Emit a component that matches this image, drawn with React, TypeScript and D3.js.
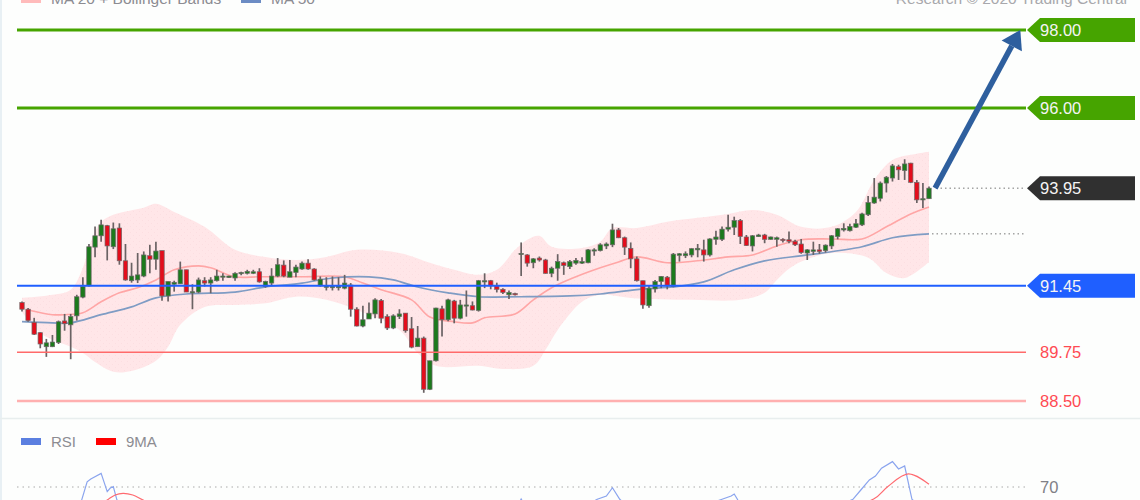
import * as d3 from 'd3';
import * as React from 'react';

const opens = [
  91.02, 90.85, 90.51, 90.25, 89.89, 89.89, 90.0, 90.55, 90.45, 90.68,
  91.16, 91.45, 92.44, 92.73, 92.99, 92.45, 92.93, 92.09, 91.58, 91.6,
  91.7, 92.22, 92.13, 92.35, 91.19, 91.49, 91.5, 91.86, 91.27, 91.29,
  91.58, 91.52, 91.58, 91.67, 91.66, 91.65, 91.76, 91.77, 91.77, 91.81,
  91.43, 91.52, 91.7, 91.98, 91.67, 91.79, 91.88, 92.03, 91.88, 91.45,
  91.41, 91.4, 91.4, 91.39, 91.47, 90.85, 90.42, 90.6, 90.73, 91.07,
  90.66, 90.37, 90.66, 90.75, 90.35, 89.89, 90.11, 88.8, 89.53, 90.86,
  90.58, 91.06, 90.62, 90.94, 90.94, 90.82, 91.56, 91.58, 91.46, 91.36,
  91.22, 91.25, 92.25, 92.24, 92.04, 92.16, 92.11, 91.77, 91.9, 92.04,
  91.94, 92.03, 92.03, 92.04, 92.34, 92.35, 92.47, 92.5, 92.88, 92.68,
  92.41, 92.14, 91.58, 90.94, 91.37, 91.56, 91.67, 91.43, 92.23, 92.22,
  92.24, 92.37, 92.37, 92.24, 92.64, 92.64, 92.9, 92.95, 93.12, 92.7,
  92.47, 92.71, 92.75, 92.64, 92.64, 92.64, 92.63, 92.59, 92.52, 92.29,
  92.33, 92.37, 92.35, 92.47, 92.71, 92.88, 92.86, 92.95, 93.01, 93.27,
  93.57, 93.69, 94.08, 94.21, 94.5, 94.4, 94.59, 94.1, 93.65, 93.68,
];
const highs = [
  91.05, 90.88, 90.63, 90.26, 90.09, 90.19, 90.56, 90.73, 90.73, 91.22,
  91.67, 92.52, 92.97, 93.14, 93.01, 93.07, 93.05, 92.52, 92.04, 92.29,
  92.33, 92.5, 92.58, 92.35, 91.56, 91.58, 92.07, 91.86, 91.49, 91.66,
  91.67, 91.67, 91.86, 91.77, 91.71, 91.8, 91.81, 91.86, 91.86, 91.9,
  91.58, 91.9, 92.16, 92.1, 92.11, 91.99, 92.07, 92.13, 91.9, 91.69,
  91.67, 91.69, 91.67, 91.73, 91.52, 90.9, 90.94, 91.02, 91.13, 91.11,
  90.72, 90.72, 90.85, 90.75, 90.65, 90.42, 90.15, 89.53, 90.89, 90.94,
  91.12, 91.09, 91.09, 91.33, 91.05, 91.6, 91.77, 91.6, 91.53, 91.39,
  91.33, 91.27, 92.56, 92.26, 92.16, 92.2, 92.14, 91.94, 92.26, 92.07,
  92.11, 92.16, 92.18, 92.39, 92.41, 92.54, 92.56, 93.04, 92.93, 92.71,
  92.56, 92.2, 91.58, 91.47, 91.6, 91.7, 91.7, 92.29, 92.29, 92.33,
  92.41, 92.52, 92.63, 92.67, 92.86, 92.97, 93.27, 93.22, 93.16, 92.75,
  92.75, 92.78, 92.78, 92.71, 92.71, 92.67, 92.84, 92.63, 92.65, 92.39,
  92.58, 92.52, 92.51, 92.75, 92.93, 93.05, 93.04, 93.16, 93.32, 93.75,
  94.21, 94.12, 94.26, 94.57, 94.55, 94.69, 94.6, 94.16, 94.08, 93.99,
];
const lows = [
  90.79, 90.53, 90.19, 89.85, 89.63, 89.88, 89.96, 90.3, 89.57, 90.56,
  91.13, 91.43, 92.18, 92.58, 92.1, 92.39, 91.99, 91.58, 91.53, 91.52,
  91.67, 91.77, 91.86, 91.07, 91.05, 91.3, 91.5, 91.29, 90.85, 91.26,
  91.43, 91.26, 91.56, 91.58, 91.65, 91.58, 91.72, 91.74, 91.75, 91.53,
  91.4, 91.47, 91.67, 91.67, 91.67, 91.67, 91.86, 91.86, 91.58, 91.43,
  91.33, 91.33, 91.33, 91.36, 90.66, 90.41, 90.39, 90.6, 90.62, 90.49,
  90.32, 90.34, 90.6, 90.25, 89.85, 89.89, 88.71, 88.78, 89.51, 90.15,
  90.54, 90.49, 90.59, 90.66, 90.82, 90.79, 91.39, 91.36, 91.28, 91.24,
  91.11, 91.2, 91.7, 91.94, 91.9, 92.07, 91.76, 91.67, 91.58, 91.73,
  91.88, 91.99, 92.01, 92.03, 92.22, 92.33, 92.39, 92.44, 92.67, 92.24,
  91.9, 91.56, 90.86, 90.89, 91.28, 91.39, 91.36, 91.41, 92.07, 92.16,
  92.18, 92.18, 92.07, 92.2, 92.5, 92.6, 92.84, 92.75, 92.52, 92.47,
  92.33, 92.7, 92.54, 92.63, 92.45, 92.56, 92.54, 92.47, 92.27, 92.11,
  92.24, 92.27, 92.3, 92.39, 92.64, 92.84, 92.84, 92.93, 92.98, 93.24,
  93.55, 93.61, 93.84, 94.12, 94.16, 94.16, 94.08, 93.57, 93.44, 93.67,
];
const closes = [
  90.85, 90.56, 90.21, 89.96, 89.99, 90.01, 90.53, 90.48, 90.66, 91.17,
  91.43, 92.45, 92.73, 93.01, 92.47, 92.91, 92.09, 91.6, 91.7, 91.73,
  92.24, 92.13, 92.34, 91.19, 91.56, 91.54, 91.86, 91.29, 91.3, 91.6,
  91.52, 91.6, 91.7, 91.7, 91.7, 91.77, 91.79, 91.82, 91.81, 91.55,
  91.56, 91.7, 91.99, 91.7, 91.81, 91.93, 92.03, 91.88, 91.6, 91.62,
  91.45, 91.45, 91.45, 91.52, 90.85, 90.42, 90.58, 90.75, 91.09, 90.62,
  90.37, 90.68, 90.73, 90.3, 89.88, 90.11, 88.8, 89.53, 90.88, 90.58,
  91.09, 90.62, 90.96, 90.96, 90.83, 91.58, 91.58, 91.46, 91.36, 91.28,
  91.28, 91.22, 92.28, 92.03, 92.14, 92.11, 91.77, 91.9, 92.07, 91.97,
  92.07, 92.1, 92.07, 92.37, 92.37, 92.5, 92.52, 92.88, 92.68, 92.44,
  92.14, 91.58, 90.96, 91.39, 91.56, 91.69, 91.46, 92.26, 92.27, 92.27,
  92.4, 92.41, 92.24, 92.65, 92.7, 92.9, 92.95, 93.12, 92.71, 92.48,
  92.73, 92.75, 92.64, 92.7, 92.68, 92.61, 92.59, 92.5, 92.3, 92.37,
  92.37, 92.33, 92.49, 92.73, 92.91, 92.92, 92.97, 93.04, 93.29, 93.58,
  93.72, 94.08, 94.23, 94.52, 94.42, 94.57, 94.1, 93.65, 93.68, 93.95,
];

// bands and averages are read at these candle numbers
const upperIdx = [0, 5, 8, 10, 11, 12, 13, 15, 20, 22, 25, 30, 35, 40, 45, 50, 55, 62, 67, 71, 75, 78, 81, 83, 85, 87, 92, 95, 97, 101, 106, 111, 116, 120, 124, 128, 133, 137, 140, 143, 147, 149];
const upperBand = [91.14, 91.22, 91.35, 91.91, 92.45, 92.83, 93.09, 93.27, 93.45, 93.55, 93.34, 92.96, 92.37, 92.19, 92.11, 92.19, 92.37, 92.29, 92.04, 91.86, 91.73, 91.86, 92.37, 92.63, 92.73, 92.45, 92.42, 92.58, 92.93, 92.93, 93.09, 93.19, 93.29, 93.39, 93.27, 92.96, 92.96, 93.34, 94.16, 94.67, 94.83, 94.88];
const lowerIdx = [0, 3, 5, 8, 10, 12, 15, 18, 22, 24, 26, 30, 35, 40, 45, 50, 55, 62, 65, 68, 75, 79, 84, 86, 88, 92, 95, 100, 110, 118, 122, 124, 127, 133, 139, 142, 145, 149];
const lowerBand = [90.78, 90.24, 90.07, 89.89, 89.73, 89.5, 89.25, 89.27, 89.53, 89.89, 90.45, 90.91, 90.96, 91.0, 91.17, 91.09, 90.83, 90.32, 89.73, 89.4, 89.4, 89.32, 89.4, 89.81, 90.32, 91.04, 91.22, 91.14, 91.09, 91.09, 91.27, 91.6, 91.99, 92.29, 92.17, 91.78, 91.65, 92.06];
const ma20Idx = [1, 5, 7, 10, 13, 16, 19, 22, 25, 29, 31, 35, 39, 46, 53, 56, 59, 64, 67, 71, 74, 76, 81, 84, 87, 91, 95, 98, 101, 106, 111, 116, 120, 124, 128, 133, 138, 142, 146, 149];
const ma20 = [90.83, 90.71, 90.71, 90.76, 91.04, 91.27, 91.4, 91.6, 91.86, 91.96, 91.91, 91.68, 91.68, 91.68, 91.68, 91.52, 91.35, 91.09, 90.65, 90.53, 90.5, 90.63, 90.73, 91.09, 91.4, 91.68, 91.91, 92.06, 92.19, 92.04, 92.09, 92.19, 92.24, 92.47, 92.63, 92.65, 92.65, 92.96, 93.29, 93.47];
const ma50Idx = [0, 5, 8, 13, 18, 22, 27, 35, 40, 46, 51, 57, 61, 65, 70, 75, 82, 90, 95, 102, 107, 112, 117, 122, 129, 138, 143, 149];
const ma50 = [90.53, 90.5, 90.5, 90.71, 90.91, 91.14, 91.24, 91.29, 91.42, 91.52, 91.65, 91.68, 91.6, 91.42, 91.27, 91.17, 91.17, 91.19, 91.24, 91.37, 91.42, 91.55, 91.86, 92.09, 92.24, 92.45, 92.68, 92.78];

const rsiIdx = [0, 8, 9.8, 10.7, 11.3, 13, 14, 14.5, 15, 15.6, 20, 40, 60, 81, 82, 83, 90, 94.5, 96, 97, 98.2, 103, 115, 116.5, 117, 117.5, 119, 130, 136.5, 137.8, 139.2, 140.2, 141.2, 143, 144, 145, 146.2, 149];
const rsiValues = [48, 50, 61.3, 73.5, 75.3, 79.1, 66.9, 69.3, 70.2, 61.3, 52, 50, 42, 54, 62, 55, 52, 61.8, 64, 69.5, 61.8, 45, 61.8, 64, 65.3, 62, 50, 50, 61.8, 68, 74.7, 77.3, 82.5, 86.9, 82, 84, 61.8, 52];
const rsiMaIdx = [8, 12, 14, 15.3, 16.6, 18.2, 19.9, 24, 60, 100, 130, 139.9, 142.2, 145.6, 149];
const rsiMaValues = [50, 56, 61.3, 64.7, 65.8, 64.7, 61.3, 54, 46, 50, 52, 62, 70.2, 78.7, 71.8];

const levels = [
  { value: 98, label: '98.00', color: '#46a400', width: 3 },
  { value: 96, label: '96.00', color: '#46a400', width: 3 },
  { value: 91.45, label: '91.45', color: '#1f5fff', width: 2 },
  { value: 89.75, label: '89.75', color: '#ff6a6a', width: 1.5 },
  { value: 88.5, label: '88.50', color: '#ffb0b0', width: 2.5 },
];
const lastClose = 93.95;
const lastMa50 = 92.78;
const rsiLevel = 70;

const UP = '#1a7a1e';
const DOWN = '#e3101c';
const GREY = '#8c8c92';
const FONT = '"Liberation Sans", Arial, sans-serif';

const App = () => {
  const ref = React.useRef<SVGSVGElement | null>(null);

  React.useEffect(() => {
    const svg = d3.select(ref.current);
    svg.selectAll('*').remove();

    const x = d3.scaleLinear().domain([0, 149]).range([22, 929]);
    const y = d3.scaleLinear().domain([88.5, 98]).range([401, 30]);
    const yRsi = d3.scaleLinear().domain([70, 90]).range([487, 457]);
    const left = 17;
    const right = 1026;

    const defs = svg.append('defs');
    defs.append('filter').attr('id', 'soft').append('feGaussianBlur').attr('stdDeviation', 0.45);
    const dots = defs.append('pattern').attr('id', 'dots').attr('width', 6).attr('height', 6).attr('patternUnits', 'userSpaceOnUse');
    dots.append('circle').attr('cx', 1.5).attr('cy', 1.5).attr('r', 0.6).attr('fill', '#fcdde0');
    dots.append('circle').attr('cx', 4.5).attr('cy', 4.5).attr('r', 0.6).attr('fill', '#fcdde0');

    svg.append('rect').attr('width', 1140).attr('height', 500).attr('fill', '#fdfefd');
    svg.append('rect').attr('x', 0).attr('width', 2).attr('height', 500).attr('fill', '#e8f0f4');
    svg.append('line').attr('x1', 0).attr('x2', 1140).attr('y1', 418.5).attr('y2', 418.5).attr('stroke', '#e8eeee').attr('stroke-width', 1.5);

    // top legend, cut by the page edge
    svg.append('rect').attr('x', 21).attr('y', -4).attr('width', 20).attr('height', 7).attr('fill', '#fbb');
    svg.append('rect').attr('x', 241).attr('y', -4).attr('width', 20).attr('height', 7).attr('fill', '#6c8cc4');
    const legend = svg.append('g').attr('font-family', FONT).attr('font-size', 15.5).attr('fill', GREY);
    legend.append('text').attr('x', 51).attr('y', 4).text('MA 20 + Bollinger Bands');
    legend.append('text').attr('x', 271).attr('y', 4).text('MA 50');
    legend.append('text').attr('x', 1127).attr('y', 4).attr('text-anchor', 'end').attr('fill', '#a8a8ac').text('Research © 2020 Trading Central');

    // bollinger bands
    const bandLine = d3.line<[number, number]>().x((d) => x(d[0])).y((d) => y(d[1])).curve(d3.curveCatmullRom.alpha(0.5));
    const upperPath = bandLine(upperIdx.map((d, i) => [d, upperBand[i]]));
    const lowerPath = bandLine(lowerIdx.map((d, i) => [d, lowerBand[i]]).reverse() as [number, number][]);
    const bandPath = `${upperPath}L${lowerPath!.slice(1)}Z`;
    svg.append('path').attr('d', bandPath).attr('fill', '#ffe6e8');
    svg.append('path').attr('d', bandPath).attr('fill', 'url(#dots)');

    const soft = svg.append('g').attr('filter', 'url(#soft)');
    soft.append('path').attr('d', bandLine(ma20Idx.map((d, i) => [d, ma20[i]]))).attr('fill', 'none').attr('stroke', '#ffa6a6').attr('stroke-width', 1.6);
    soft.append('path').attr('d', bandLine(ma50Idx.map((d, i) => [d, ma50[i]]))).attr('fill', 'none').attr('stroke', '#7f9cc4').attr('stroke-width', 1.7);

    // candles
    opens.forEach((o, i) => {
      const c = closes[i];
      const cx = x(i);
      soft.append('line').attr('x1', cx).attr('x2', cx).attr('y1', y(highs[i])).attr('y2', y(lows[i])).attr('stroke', '#6a6264').attr('stroke-width', 1.7);
      soft
        .append('rect')
        .attr('x', cx - 2.2)
        .attr('width', 4.4)
        .attr('y', y(Math.max(o, c)))
        .attr('height', Math.max(1.2, Math.abs(y(o) - y(c))))
        .attr('fill', c >= o ? UP : DOWN)
        .attr('stroke', '#70686a')
        .attr('stroke-width', 0.7);
    });

    // levels and their tags
    levels.forEach((l) => {
      svg.append('line').attr('x1', left).attr('x2', right).attr('y1', y(l.value)).attr('y2', y(l.value)).attr('stroke', l.color).attr('stroke-width', l.width);
    });
    const tag = (value: number, label: string, color: string) => {
      const yy = y(value);
      const pts: [number, number][] = [[1027, yy], [1040, yy - 12], [1135, yy - 12], [1135, yy + 12], [1040, yy + 12]];
      svg.append('polygon').attr('points', pts.join(' ')).attr('fill', color);
      svg.append('text').attr('x', 1040).attr('y', yy + 6).attr('font-family', FONT).attr('font-size', 16.5).attr('fill', '#f4f4f4').text(label);
    };
    tag(98, '98.00', '#46a400');
    tag(96, '96.00', '#46a400');
    tag(lastClose, lastClose.toFixed(2), '#303030');
    tag(91.45, '91.45', '#1f5fff');
    levels.slice(3).forEach((l) => {
      svg.append('text').attr('x', 1040).attr('y', y(l.value) + 6).attr('font-family', FONT).attr('font-size', 16.5).attr('fill', '#ff4a52').text(l.label);
    });

    const dotted = (yy: number, x1: number, x2: number) =>
      svg.append('line').attr('x1', x1).attr('x2', x2).attr('y1', yy).attr('y2', yy).attr('stroke', '#777').attr('stroke-dasharray', '1.5 3');
    dotted(y(lastClose), 936, right);
    dotted(y(lastMa50), 932, right);

    // forecast arrow, from the last close up to the 98.00 level
    const ax0 = x(150);
    const ay0 = y(lastClose);
    const ax1 = x(164);
    const ay1 = y(98);
    const ang = Math.atan2(ay1 - ay0, ax1 - ax0);
    const headLen = 18;
    const headHalf = 11.5;
    const bx = ax1 - headLen * Math.cos(ang);
    const by = ay1 - headLen * Math.sin(ang);
    svg.append('line').attr('x1', ax0).attr('y1', ay0).attr('x2', bx).attr('y2', by).attr('stroke', '#2e5f9e').attr('stroke-width', 5.5);
    svg
      .append('polygon')
      .attr('points', [[ax1, ay1], [bx - headHalf * Math.sin(ang), by + headHalf * Math.cos(ang)], [bx + headHalf * Math.sin(ang), by - headHalf * Math.cos(ang)]].join(' '))
      .attr('fill', '#2e5f9e');

    // rsi panel
    svg.append('rect').attr('x', 21).attr('y', 438).attr('width', 20).attr('height', 7).attr('fill', '#5b7fe0');
    svg.append('rect').attr('x', 96).attr('y', 438).attr('width', 20).attr('height', 7).attr('fill', '#f00');
    const rsiLegend = svg.append('g').attr('font-family', FONT).attr('font-size', 15).attr('fill', GREY);
    rsiLegend.append('text').attr('x', 51).attr('y', 447).text('RSI');
    rsiLegend.append('text').attr('x', 126).attr('y', 447).text('9MA');

    svg.append('line').attr('x1', left).attr('x2', 1028).attr('y1', yRsi(rsiLevel)).attr('y2', yRsi(rsiLevel)).attr('stroke', '#aaa').attr('stroke-dasharray', '1.5 4');
    svg.append('text').attr('x', 1040).attr('y', yRsi(rsiLevel) + 6).attr('font-family', FONT).attr('font-size', 16.5).attr('fill', '#808086').text(String(rsiLevel));

    const rsiLine = d3.line<[number, number]>().x((d) => x(d[0])).y((d) => yRsi(d[1]));
    svg.append('path').attr('d', rsiLine(rsiIdx.map((d, i) => [d, rsiValues[i]]))).attr('fill', 'none').attr('stroke', '#8aa4ee').attr('stroke-width', 1.2);
    svg.append('path').attr('d', rsiLine.curve(d3.curveCatmullRom)(rsiMaIdx.map((d, i) => [d, rsiMaValues[i]]))).attr('fill', 'none').attr('stroke', '#ff6a70').attr('stroke-width', 1.2);
  }, []);

  return <svg ref={ref} width={1140} height={500} style={{ position: 'absolute', left: 0, top: 0 }} />;
};

export default App;
